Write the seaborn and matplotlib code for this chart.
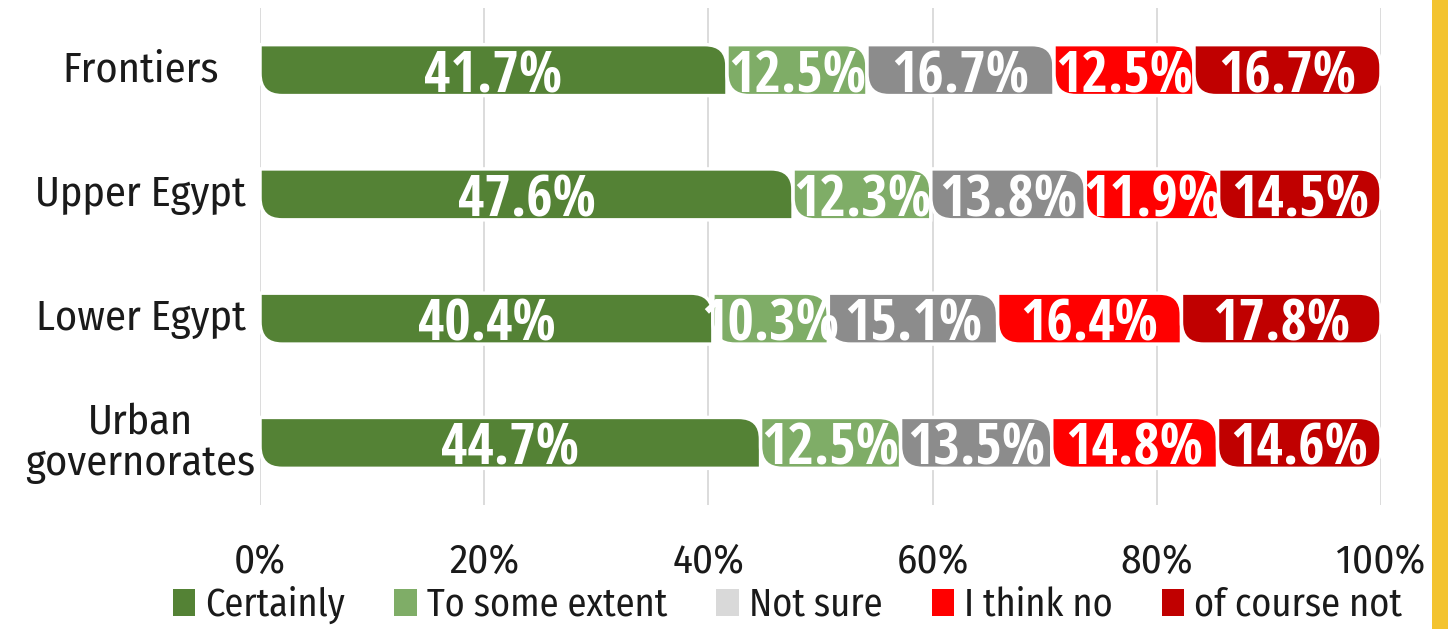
import numpy as np
import pandas as pd
import matplotlib
matplotlib.use("Agg")
import matplotlib.pyplot as plt
import seaborn as sns
from matplotlib.path import Path
from matplotlib.patches import PathPatch, Patch, Rectangle

regions = ["Frontiers", "Upper Egypt", "Lower Egypt", "Urban\ngovernorates"]
series = ["Certainly", "To some extent", "Not sure", "I think no", "of course not"]
certainly = [41.7, 47.6, 40.4, 44.7]
some_extent = [12.5, 12.3, 10.3, 12.5]
not_sure = [16.7, 13.8, 15.1, 13.5]
think_no = [12.5, 11.9, 16.4, 14.8]
course_not = [16.7, 14.5, 17.8, 14.6]
xticks = [0, 20, 40, 60, 80, 100]
xtick_labels = ["0%", "20%", "40%", "60%", "80%", "100%"]

bar_colors = ["#548235", "#7fad67", "#8c8c8c", "#ff0000", "#c00000"]
legend_colors = ["#548235", "#7fad67", "#d9d9d9", "#ff0000", "#c00000"]

sns.set_style("white")
TEXT_FONT = ["Fira Sans Condensed", "DejaVu Sans"]
LABEL_FONT = ["Open Sans Condensed", "DejaVu Sans"]
plt.rcParams["font.family"] = TEXT_FONT

values = np.array([certainly, some_extent, not_sure, think_no, course_not])
totals = values.sum(axis=0)
shares = values / totals * 100
cum = np.cumsum(shares, axis=0)

df = pd.DataFrame({"region": regions})
for i, s in enumerate(series):
    df[s] = cum[i]

W, H = 1453, 629
fig = plt.figure(figsize=(W / 100, H / 100), dpi=100)
ax = fig.add_axes([260 / W, (H - 505) / H, 1121 / W, 497 / H])

# draw cumulative bars (largest first) through seaborn
for i in reversed(range(len(series))):
    sns.barplot(data=df, x=series[i], y="region", orient="h", color=bar_colors[i],
                saturation=1, width=0.41, ax=ax)

ax.set_xlim(0, 100)
ax.set_ylim(3.5, -0.5)

containers = list(ax.containers)[::-1]
ax_w_px = 1121
ax_h_px = 497
r_px = 22
rx = r_px / (ax_w_px / 100)
ry = r_px / (ax_h_px / 4)

for k, cont in enumerate(containers):
    for j, p in enumerate(cont.patches):
        p.set_visible(False)
        x1 = p.get_x() + p.get_width()
        if k == 0:
            x0 = 0
        else:
            q = containers[k - 1].patches[j]
            x0 = q.get_x() + q.get_width()
        top = p.get_y()
        bot = p.get_y() + p.get_height()
        rxx = min(rx, (x1 - x0) / 2)
        ryy = min(ry, (bot - top) / 2)
        last = (k == len(containers) - 1)
        verts = [(x0, top), (x1 - rxx, top), (x1, top), (x1, top + ryy)]
        codes = [Path.MOVETO, Path.LINETO, Path.CURVE3, Path.CURVE3]
        if last:
            verts += [(x1, bot - ryy), (x1, bot), (x1 - rxx, bot)]
            codes += [Path.LINETO, Path.CURVE3, Path.CURVE3]
        else:
            verts += [(x1, bot)]
            codes += [Path.LINETO]
        verts += [(x0 + rxx, bot), (x0, bot), (x0, bot - ryy), (x0, top), (x0, top)]
        codes += [Path.LINETO, Path.CURVE3, Path.CURVE3, Path.LINETO, Path.CLOSEPOLY]
        patch = PathPatch(Path(verts, codes), facecolor=bar_colors[k], edgecolor="white",
                          linewidth=2.5, zorder=3)
        ax.add_patch(patch)
        ax.text((x0 + x1) / 2, (top + bot) / 2, f"{values[k][j]:.1f}%", ha="center", va="center_baseline",
                color="white", fontsize=41, fontweight="bold", family=LABEL_FONT, zorder=4)

ax.set_xticks(xticks)
ax.set_xticklabels(xtick_labels)
ax.set_xlabel("")
ax.set_ylabel("")
ax.tick_params(axis="x", length=0, pad=27, labelsize=29.5, labelcolor="#1a1a1a")
ax.tick_params(axis="y", length=0, pad=86, labelsize=30.5, labelcolor="#1a1a1a")
for lab in ax.get_yticklabels():
    lab.set_horizontalalignment("center")
    lab.set_multialignment("center")
    lab.set_linespacing(1.0)
    lab.set_verticalalignment("center")

ax.set_axisbelow(True)
ax.xaxis.grid(True, color="#d9d9d9", linewidth=1.3)
ax.yaxis.grid(False)
for sp in ax.spines.values():
    sp.set_visible(False)

handles = [Patch(facecolor=c, edgecolor="none") for c in legend_colors]
fig.legend(handles, series, loc="center left", bbox_to_anchor=(173 / W, (H - 605) / H),
           ncol=5, frameon=False, fontsize=27.5, handlelength=0.58, handleheight=0.7,
           handletextpad=0.26, columnspacing=1.3, borderpad=0, borderaxespad=0,
           labelcolor="#1a1a1a")

fig.add_artist(Rectangle((1432 / W, 0), 16 / W, 1, transform=fig.transFigure,
                         facecolor="#f3c32f", edgecolor="none"))

fig.savefig("out.png", dpi=100, facecolor="white")
